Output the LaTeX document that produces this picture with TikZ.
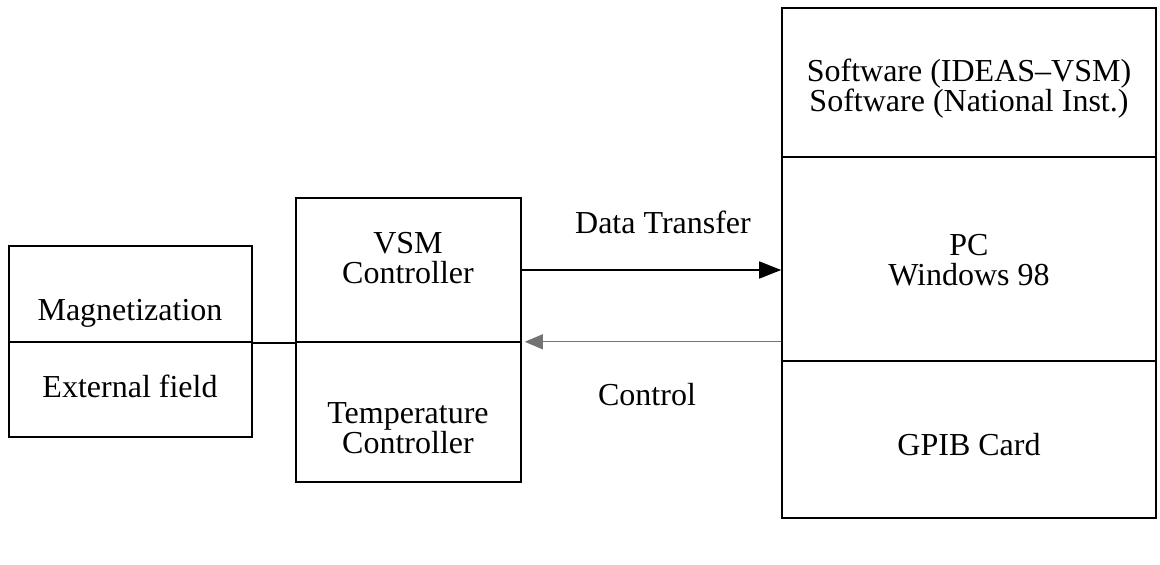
\documentclass[tikz,border=0pt]{standalone}
\usepackage{fontspec}
\setmainfont{Liberation Serif}
\usetikzlibrary{arrows.meta}
\begin{document}
\begin{tikzpicture}[x=1pt,y=-1pt,
  box/.style={draw=black,line width=1.6pt,inner sep=0pt,anchor=center},
  txt/.style={font=\fontsize{32}{30}\selectfont,align=center,inner sep=0pt,anchor=center},
  conn/.style={line width=1.6pt}]
\useasboundingbox (0,0) rectangle (1160,565);
% left box
\node[box,minimum width=243pt,minimum height=96pt] (mag) at (130.5,294) {};
\node[box,minimum width=243pt,minimum height=95pt] (ext) at (130.5,389.5) {};
\node[txt] (magt) at (130,313) {Magnetization};
\node[txt] (extt) at (130,386) {External field};
% VSM box
\node[box,minimum width=225pt,minimum height=144pt] (vsm) at (408.5,270) {};
\node[box,minimum width=225pt,minimum height=140pt] (temp) at (408.5,412) {};
\node[txt] (vsmt) at (408,258) {VSM\\Controller};
\node[txt] (tempt) at (408,428) {Temperature\\Controller};
% PC box
\node[box,minimum width=374pt,minimum height=149pt] (sw) at (969,82.5) {};
\node[box,minimum width=374pt,minimum height=204pt] (pc) at (969,259) {};
\node[box,minimum width=374pt,minimum height=157pt] (gpib) at (969,439.5) {};
\node[txt] (swt) at (969,89) {Software (IDEAS--VSM)\\Software (National Inst.)};
\node[txt] (pct) at (969,260) {PC\\Windows 98};
\node[txt] (gpibt) at (969,445) {GPIB Card};
% connectors
\draw[conn] (mag.south east) -- (vsm.south west);
\draw[conn,-{Triangle[length=22pt,width=17pt]}] (vsm.east) -- (vsm.east -| pc.west);
\draw[line width=1.2pt,black!55,-{Triangle[length=18pt,width=15pt]}] ([yshift=1pt]vsm.south east -| pc.west) -- ([xshift=3pt,yshift=1pt]vsm.south east);
\node[txt] (dt) at (663,222) {Data Transfer};
\node[txt] (ct) at (647,395) {Control};
\end{tikzpicture}
\end{document}
